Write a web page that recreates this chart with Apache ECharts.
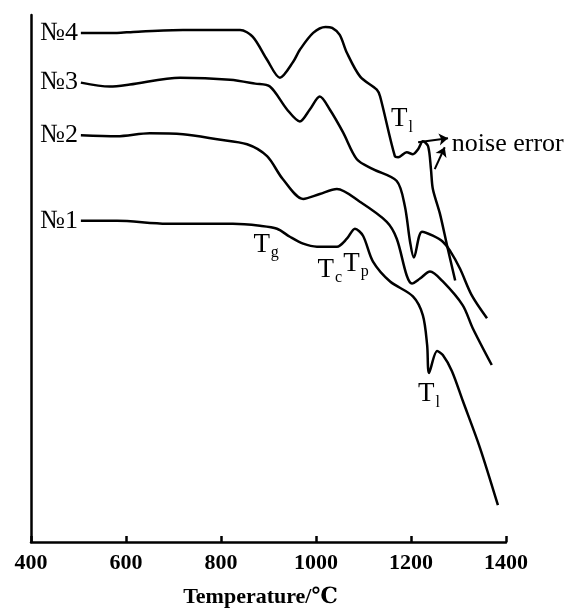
<!DOCTYPE html>
<html>
<head>
<meta charset="utf-8">
<script src="https://cdn.jsdelivr.net/npm/echarts@6/dist/echarts.min.js"></script>
<style>
  html, body { margin: 0; padding: 0; background: #fff; }
  #dta { width: 580px; height: 613px; }
</style>
</head>
<body>
<div id="dta"></div>
<script>
// temperature (C) and DTA signal (arbitrary units)
var t4 = [505, 581, 615, 720, 840, 867, 897, 924, 952, 966, 994, 1020, 1034, 1050, 1065, 1093, 1128, 1135, 1166, 1173, 1191, 1204, 1215, 1225, 1236, 1242, 1246, 1261, 1276, 1293];
var v4 = [512, 512, 513, 515, 515, 508, 485, 467, 483, 495, 512, 518, 517, 510, 492, 468, 455, 448, 388, 387, 392, 390, 395, 403, 398, 375, 355, 330, 298, 263];

var t3 = [505, 566, 608, 714, 819, 872, 903, 939, 966, 987, 1008, 1029, 1057, 1086, 1120, 1170, 1187, 1198, 1206, 1223, 1246, 1267, 1282, 1303, 1328, 1360];
var v3 = [462, 458, 460, 467, 465, 461, 458, 435, 423, 435, 448, 435, 412, 385, 375, 363, 338, 302, 286, 312, 308, 302, 293, 275, 248, 225];

var t2 = [505, 581, 650, 720, 792, 855, 897, 930, 973, 1008, 1044, 1093, 1149, 1170, 1191, 1202, 1219, 1240, 1267, 1309, 1330, 1370];
var v2 = [409, 408, 411, 410, 405, 400, 388, 365, 345, 350, 355, 342, 322, 305, 268, 260, 265, 272, 262, 238, 215, 178];

var t1 = [505, 581, 686, 825, 882, 918, 945, 973, 1002, 1044, 1065, 1082, 1099, 1120, 1156, 1204, 1225, 1234, 1238, 1255, 1267, 1286, 1309, 1345, 1383];
var v1 = [323, 323, 320, 320, 318, 315, 307, 300, 297, 297, 305, 315, 308, 282, 262, 247, 228, 198, 170, 192, 188, 172, 142, 95, 37];

var names = ['№4', '№3', '№2', '№1'];
var xTicks = [400, 600, 800, 1000, 1200, 1400];

// annotations: [temperature, signal, main letter, subscript]
var marks = [
    [895, 299, 'T', 'g'],
    [1029, 274, 'T', 'c'],
    [1084, 280, 'T', 'p'],
    [1181, 425, 'T', 'l'],
    [1238, 149, 'T', 'l']
];
var noiseAt = [1286, 400];
var arrows = [
    [[1215, 402], [1278, 406]],
    [[1250, 375], [1271, 397]]
];

var serif = 'Liberation Serif, DejaVu Serif, serif';

function zip(a, b) {
    return a.map(function (x, i) { return [x, b[i]]; });
}

function curve(name, t, v) {
    return {
        name: name,
        type: 'line',
        data: zip(t, v),
        smooth: 0.3,
        symbol: 'none',
        lineStyle: { color: '#000', width: 2.5 },
        markPoint: {
            symbol: 'circle',
            symbolSize: 0,
            silent: true,
            data: [{ coord: [t[0], v[0]], name: name }],
            label: {
                show: true,
                position: 'left',
                distance: 3,
                formatter: '{b}',
                color: '#000',
                fontFamily: serif,
                fontSize: 26
            }
        }
    };
}

var myChart = echarts.init(document.getElementById('dta'));

var option = {
    animation: false,
    backgroundColor: '#fff',
    grid: { left: 31, right: 74, top: 15, bottom: 68 },
    xAxis: {
        type: 'value',
        min: xTicks[0],
        max: xTicks[xTicks.length - 1],
        interval: 200,
        name: 'Temperature/℃',
        nameLocation: 'middle',
        nameGap: 44,
        nameTextStyle: { color: '#000', fontFamily: serif, fontSize: 22, fontWeight: 'bold', padding: [0, 16, 0, 0] },
        axisLine: { lineStyle: { color: '#000', width: 2.5 } },
        axisTick: { inside: true, length: 6, lineStyle: { color: '#000', width: 2.5 } },
        axisLabel: {
            color: '#000', fontFamily: serif, fontSize: 22, fontWeight: 'bold', margin: 10,
            formatter: function (val) { return String(val); }
        },
        splitLine: { show: false }
    },
    yAxis: {
        type: 'value',
        min: 0,
        max: 530,
        axisLine: { show: true, lineStyle: { color: '#000', width: 2.5 } },
        axisTick: { show: false },
        axisLabel: { show: false },
        splitLine: { show: false }
    },
    series: [
        curve(names[0], t4, v4),
        curve(names[1], t3, v3),
        curve(names[2], t2, v2),
        curve(names[3], t1, v1),
        {
            name: 'notes',
            type: 'scatter',
            symbolSize: 0,
            silent: true,
            itemStyle: { color: '#000', opacity: 1 },
            data: marks.map(function (m) {
                return { value: [m[0], m[1]], main: m[2], sub: m[3] };
            }),
            label: {
                show: true,
                position: [0, 0],
                align: 'center',
                verticalAlign: 'middle',
                color: '#000',
                opacity: 1,
                formatter: function (p) {
                    return '{t|' + p.data.main + '}{s|' + p.data.sub + '}';
                },
                rich: {
                    t: { fontFamily: serif, fontSize: 27, lineHeight: 27, color: '#000', verticalAlign: 'top' },
                    s: { fontFamily: serif, fontSize: 16, lineHeight: 16, color: '#000', verticalAlign: 'top', padding: [14, 0, 0, 1] }
                }
            },
            markPoint: {
                symbol: 'circle',
                symbolSize: 0,
                data: [{ coord: noiseAt, name: 'noise error' }],
                label: {
                    show: true,
                    position: [0, 0],
                    align: 'left',
                    verticalAlign: 'middle',
                    formatter: '{b}',
                    color: '#000',
                    fontFamily: serif,
                    fontSize: 26
                }
            },
            markLine: {
                silent: true,
                symbol: ['none', 'arrow'],
                symbolSize: 9,
                label: { show: false },
                lineStyle: { color: '#000', width: 2, type: 'solid', curveness: -0.3 },
                data: arrows.map(function (a) {
                    return [{ coord: a[0] }, { coord: a[1] }];
                })
            }
        }
    ]
};
myChart.setOption(option);
</script>
</body>
</html>
